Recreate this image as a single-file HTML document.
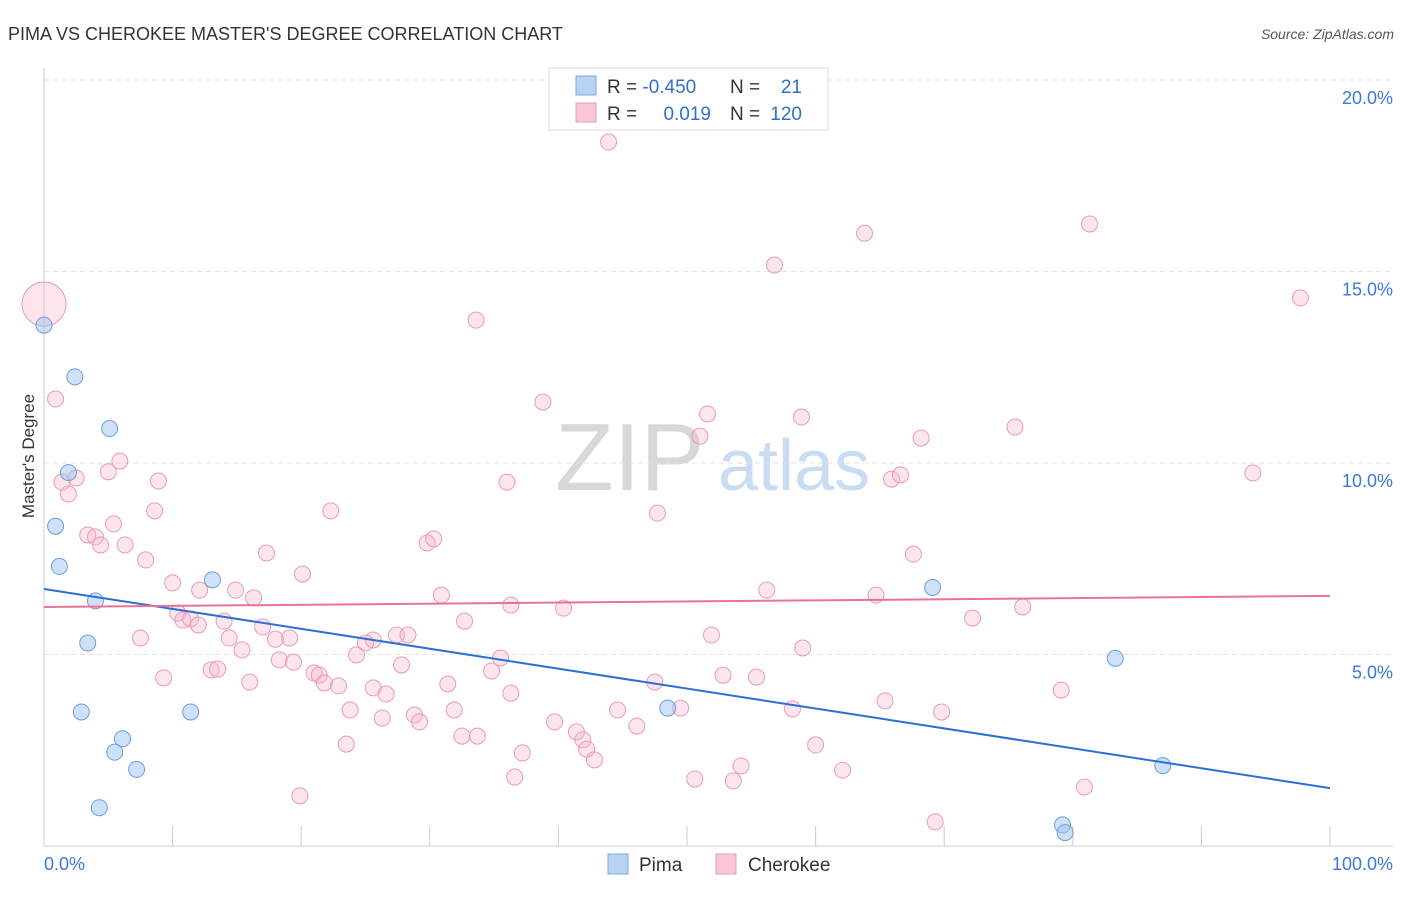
<!DOCTYPE html>
<html><head><meta charset="utf-8"><style>
body{margin:0;background:#fff;font-family:"Liberation Sans",sans-serif;}
svg text{font-family:"Liberation Sans",sans-serif;}
</style></head><body>
<svg id="chart" width="1406" height="892" xmlns="http://www.w3.org/2000/svg">
<text x="8" y="40" font-size="18" fill="#333">PIMA VS CHEROKEE MASTER'S DEGREE CORRELATION CHART</text>
<text x="1394" y="39" font-size="14" fill="#555" font-style="italic" text-anchor="end">Source: ZipAtlas.com</text>
<g>
<text x="555" y="490" font-size="96" font-family="Liberation Serif" fill="#d8d8d8">ZIP</text>
<text x="718" y="490" font-size="72" fill="#c9dcf3">atlas</text>
</g>
<g id="grid"></g>
<g id="axes"></g>
<g id="marks"></g>
<text transform="translate(34,456) rotate(-90)" font-size="17" fill="#333" text-anchor="middle">Master's Degree</text>
<g>
<rect x="549" y="68" width="279" height="62" fill="#fff" stroke="#ddd"/>
<rect x="576" y="76" width="20" height="19" fill="#b8d2f4" stroke="#7fa9e3"/>
<rect x="576" y="103" width="20" height="19" fill="#f9c6d6" stroke="#eb9ab5"/>
<text x="607" y="93" font-size="19" fill="#333">R = <tspan fill="#2f6fd0">-0.450</tspan></text>
<text x="730" y="93" font-size="19" fill="#333">N =</text>
<text x="802" y="93" font-size="19" fill="#2f6fd0" text-anchor="end">21</text>
<text x="607" y="120" font-size="19" fill="#333">R =</text>
<text x="711" y="120" font-size="19" fill="#2f6fd0" text-anchor="end">0.019</text>
<text x="730" y="120" font-size="19" fill="#333">N =</text>
<text x="802" y="120" font-size="19" fill="#2f6fd0" text-anchor="end">120</text>
</g>
<g>
<rect x="608" y="854" width="20" height="20" fill="#b8d2f4" stroke="#7fa9e3"/>
<text x="639" y="871" font-size="19" fill="#333">Pima</text>
<rect x="716" y="854" width="20" height="20" fill="#f9c6d6" stroke="#eb9ab5"/>
<text x="748" y="871" font-size="19" fill="#333">Cherokee</text>
</g>
</svg>
<script>
const pimaX=[0,2.4,5.1,1.9,0.9,1.2,4.0,13.1,3.4,2.9,11.4,6.1,5.5,7.2,4.3,48.5,69.1,83.3,87.0,79.2,79.4];
const pimaY=[13.6,12.25,10.9,9.75,8.35,7.3,6.4,6.95,5.3,3.5,3.5,2.8,2.45,2.0,1.0,3.6,6.75,4.9,2.1,0.55,0.35];
const cherX=[0,0.9,43.9,63.8,81.3,56.8,97.7,33.6,38.8,51.6,58.9,51.0,68.2,75.5,94.0,65.9,66.6,5.9,5.0,2.5,1.4,1.9,8.9,36.0,8.6,22.3,47.7,5.4,3.4,4.0,4.4,6.3,7.9,17.3,29.8,30.3,67.6,20.1,10.0,12.1,14.9,16.3,30.9,36.3,40.4,56.2,64.7,76.1,10.4,10.8,11.4,12.0,14.0,17.0,72.2,32.7,7.5,14.4,18.0,19.1,25.6,25.0,27.4,28.3,51.9,15.4,24.3,59.0,35.5,18.3,19.4,27.8,34.8,13.0,13.5,9.3,16.0,21.0,21.4,21.8,22.9,25.6,31.4,26.6,36.3,47.5,52.8,55.4,79.1,65.4,23.8,31.9,26.3,28.8,29.2,44.6,49.5,58.2,69.8,39.7,46.1,32.5,33.7,41.4,41.9,42.2,42.8,23.5,37.2,60.0,54.2,62.1,36.6,50.6,53.6,19.9,80.9,69.3];
const cherY=[14.15,11.67,18.38,16.0,16.24,15.17,14.31,13.73,11.59,11.28,11.2,10.7,10.65,10.94,9.74,9.58,9.69,10.05,9.77,9.61,9.5,9.19,9.53,9.5,8.75,8.75,8.69,8.41,8.12,8.07,7.86,7.86,7.47,7.65,7.91,8.02,7.62,7.1,6.87,6.68,6.68,6.48,6.55,6.29,6.21,6.68,6.55,6.24,6.08,5.9,5.93,5.77,5.87,5.72,5.95,5.87,5.43,5.43,5.4,5.43,5.38,5.3,5.51,5.51,5.51,5.12,4.99,5.17,4.91,4.86,4.8,4.73,4.57,4.6,4.62,4.39,4.28,4.52,4.46,4.26,4.18,4.13,4.23,3.97,3.99,4.28,4.46,4.41,4.07,3.79,3.55,3.55,3.34,3.42,3.24,3.55,3.6,3.58,3.5,3.24,3.13,2.87,2.87,2.98,2.77,2.53,2.25,2.66,2.43,2.64,2.09,1.98,1.8,1.75,1.7,1.31,1.54,0.63];
const pimaLine=[6.71,1.51];
const cherLine=[6.24,6.53];
const yTicks=[5,10,15,20];
const yTickLabels=["5.0%","10.0%","15.0%","20.0%"];
const NS="http://www.w3.org/2000/svg";
const sx=v=>44+v*12.86;
const sy=v=>846-v*38.3;
function mk(tag,attrs,parent){const e=document.createElementNS(NS,tag);for(const k in attrs)e.setAttribute(k,attrs[k]);parent.appendChild(e);return e;}
const grid=document.getElementById('grid'),axes=document.getElementById('axes'),marks=document.getElementById('marks');
yTicks.forEach((t,i)=>{
 const l=mk('line',{x1:44,x2:1393,y1:sy(t),y2:sy(t),stroke:'#e2e2e2','stroke-dasharray':'5,4'},grid);
 
 
 const tx=mk('text',{x:1393,y:sy(t)+24,'font-size':18,fill:'#3b78d8','text-anchor':'end'},axes);
 tx.textContent=yTickLabels[i];
 
 
});
const ax=mk('line',{x1:44,x2:44,y1:68,y2:846,stroke:'#ccc'},axes);


const bx=mk('line',{x1:44,x2:1393,y1:846,y2:846,stroke:'#ccc'},axes);


for(let i=0;i<=10;i++){
 const t=mk('line',{x1:sx(i*10),x2:sx(i*10),y1:826,y2:846,stroke:'#ccc'},axes);
 
 
}
const x0=mk('text',{x:44,y:870,'font-size':18,fill:'#3b78d8'},axes);x0.textContent='0.0%';


const x1=mk('text',{x:1393,y:870,'font-size':18,fill:'#3b78d8','text-anchor':'end'},axes);x1.textContent='100.0%';


cherX.forEach((x,i)=>{
 const c=mk('circle',{cx:sx(x),cy:sy(cherY[i]),r:i===0?22:8,fill:'rgba(247,180,202,0.35)',stroke:'#eb9ab5','stroke-width':1},marks);
 
 
});
pimaX.forEach((x,i)=>{
 const c=mk('circle',{cx:sx(x),cy:sy(pimaY[i]),r:8,fill:'rgba(160,196,240,0.5)',stroke:'#6d9de0','stroke-width':1},marks);
 
 
});
const pl=mk('line',{x1:sx(0),y1:sy(pimaLine[0]),x2:sx(100),y2:sy(pimaLine[1]),stroke:'#2a6fd6','stroke-width':2},marks);


const cl=mk('line',{x1:sx(0),y1:sy(cherLine[0]),x2:sx(100),y2:sy(cherLine[1]),stroke:'#e8739a','stroke-width':2},marks);


</script>
</body></html>
